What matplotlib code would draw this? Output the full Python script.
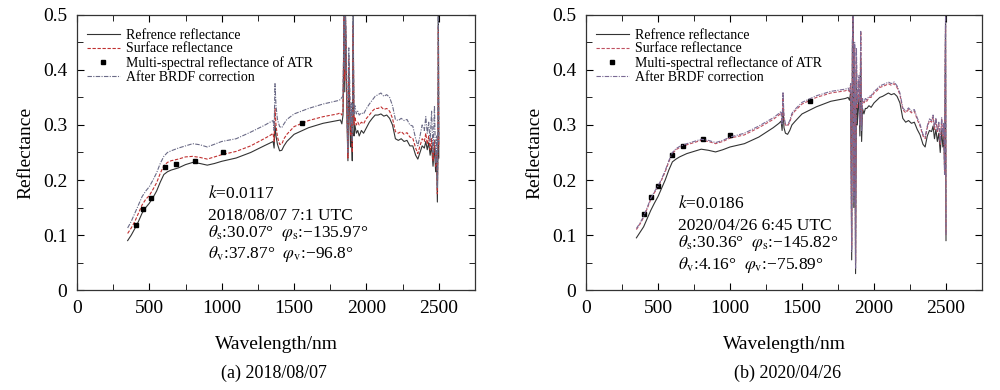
import matplotlib
matplotlib.use('Agg')
import matplotlib.pyplot as plt
import numpy as np
from matplotlib.ticker import MultipleLocator

plt.rcParams['font.family'] = ['Liberation Serif', 'DejaVu Serif']
plt.rcParams['mathtext.fontset'] = 'stix'

# wavelength grid (nm), shared by both panels
wl = [350, 375, 400, 425, 450, 475, 500, 525, 550, 575,
      600, 625, 650, 700, 750, 800, 850, 900, 950, 1000,
      1100, 1200, 1300, 1340, 1355, 1362, 1368, 1375, 1385, 1400,
      1415, 1430, 1450, 1500, 1600, 1700, 1800, 1820, 1830, 1838,
      1845, 1850, 1855, 1860, 1866, 1872, 1878, 1884, 1890, 1896,
      1902, 1908, 1914, 1920, 1930, 1940, 1950, 1965, 1980, 2000,
      2020, 2040, 2060, 2080, 2100, 2120, 2140, 2160, 2180, 2200,
      2220, 2240, 2260, 2280, 2300, 2320, 2340, 2355, 2370, 2385,
      2400, 2410, 2420, 2430, 2440, 2450, 2460, 2470, 2478, 2485,
      2490, 2494, 2497, 2500]

# (a) 2018/08/07
ref_a = [0.090, 0.100, 0.112, 0.125, 0.140, 0.150, 0.158, 0.168, 0.180, 0.196,
         0.210, 0.215, 0.218, 0.222, 0.228, 0.232, 0.230, 0.227, 0.230, 0.234,
         0.240, 0.250, 0.263, 0.268, 0.270, 0.258, 0.300, 0.280, 0.265, 0.253,
         0.254, 0.262, 0.270, 0.283, 0.295, 0.303, 0.308, 0.309, 0.302, 0.318,
         0.500, 0.360, 0.500, 0.420, 0.300, 0.235, 0.400, 0.330, 0.260, 0.300,
         0.235, 0.500, 0.280, 0.300, 0.285, 0.290, 0.280, 0.290, 0.285, 0.295,
         0.305, 0.312, 0.318, 0.318, 0.320, 0.316, 0.318, 0.312, 0.300, 0.275,
         0.272, 0.275, 0.270, 0.272, 0.262, 0.262, 0.245, 0.238, 0.250, 0.262,
         0.258, 0.270, 0.255, 0.268, 0.245, 0.262, 0.225, 0.262, 0.215, 0.240,
         0.160, 0.250, 0.500, 0.240]
sur_a = [0.103, 0.113, 0.125, 0.140, 0.155, 0.165, 0.172, 0.183, 0.195, 0.212,
         0.226, 0.232, 0.235, 0.238, 0.242, 0.243, 0.241, 0.238, 0.242, 0.246,
         0.252, 0.262, 0.276, 0.282, 0.285, 0.270, 0.330, 0.300, 0.278, 0.265,
         0.265, 0.275, 0.283, 0.297, 0.308, 0.315, 0.320, 0.322, 0.318, 0.325,
         0.500, 0.380, 0.500, 0.440, 0.320, 0.240, 0.420, 0.350, 0.280, 0.320,
         0.250, 0.480, 0.300, 0.315, 0.300, 0.305, 0.300, 0.305, 0.302, 0.312,
         0.318, 0.325, 0.330, 0.330, 0.333, 0.328, 0.330, 0.325, 0.312, 0.288,
         0.285, 0.288, 0.283, 0.286, 0.278, 0.276, 0.258, 0.248, 0.262, 0.275,
         0.270, 0.285, 0.265, 0.280, 0.255, 0.275, 0.235, 0.272, 0.225, 0.250,
         0.175, 0.270, 0.480, 0.260]
brdf_a = [0.113, 0.125, 0.140, 0.155, 0.170, 0.180, 0.188, 0.200, 0.213, 0.230,
          0.243, 0.250, 0.253, 0.258, 0.262, 0.266, 0.264, 0.260, 0.265, 0.270,
          0.275, 0.287, 0.300, 0.306, 0.308, 0.290, 0.375, 0.335, 0.310, 0.297,
          0.295, 0.302, 0.310, 0.320, 0.330, 0.338, 0.344, 0.346, 0.350, 0.352,
          0.500, 0.400, 0.500, 0.460, 0.340, 0.250, 0.440, 0.380, 0.300, 0.340,
          0.270, 0.500, 0.320, 0.335, 0.320, 0.325, 0.318, 0.322, 0.320, 0.330,
          0.338, 0.345, 0.352, 0.355, 0.358, 0.352, 0.355, 0.350, 0.335, 0.310,
          0.308, 0.312, 0.308, 0.310, 0.300, 0.298, 0.275, 0.262, 0.280, 0.300,
          0.290, 0.315, 0.285, 0.305, 0.270, 0.325, 0.250, 0.335, 0.230, 0.280,
          0.185, 0.300, 0.500, 0.270]
atr_wl_a = [408, 459, 509, 609, 685, 816, 1007, 1556]
atr_a = [0.119, 0.147, 0.167, 0.223, 0.230, 0.235, 0.250, 0.304]

# (b) 2020/04/26
ref_b = [0.095, 0.105, 0.115, 0.130, 0.145, 0.158, 0.170, 0.185, 0.200, 0.218,
         0.233, 0.238, 0.242, 0.248, 0.252, 0.256, 0.254, 0.251, 0.255, 0.260,
         0.266, 0.278, 0.295, 0.303, 0.307, 0.290, 0.330, 0.295, 0.285, 0.283,
         0.290, 0.300, 0.306, 0.320, 0.333, 0.343, 0.348, 0.350, 0.345, 0.360,
         0.055, 0.450, 0.500, 0.150, 0.400, 0.030, 0.380, 0.300, 0.330, 0.350,
         0.280, 0.420, 0.270, 0.330, 0.320, 0.330, 0.330, 0.335, 0.332, 0.340,
         0.345, 0.350, 0.352, 0.355, 0.358, 0.355, 0.357, 0.352, 0.340, 0.312,
         0.305, 0.308, 0.303, 0.305, 0.292, 0.282, 0.265, 0.260, 0.280, 0.290,
         0.288, 0.298, 0.275, 0.292, 0.270, 0.285, 0.250, 0.290, 0.260, 0.280,
         0.220, 0.350, 0.500, 0.090]
sur_b = [0.110, 0.120, 0.132, 0.148, 0.165, 0.177, 0.187, 0.200, 0.215, 0.233,
         0.248, 0.255, 0.259, 0.264, 0.268, 0.272, 0.270, 0.266, 0.270, 0.276,
         0.282, 0.295, 0.310, 0.318, 0.322, 0.305, 0.355, 0.310, 0.300, 0.298,
         0.305, 0.318, 0.325, 0.338, 0.350, 0.358, 0.362, 0.364, 0.360, 0.372,
         0.080, 0.430, 0.500, 0.180, 0.440, 0.050, 0.420, 0.330, 0.350, 0.380,
         0.300, 0.470, 0.300, 0.345, 0.340, 0.345, 0.343, 0.350, 0.350, 0.358,
         0.362, 0.368, 0.370, 0.372, 0.375, 0.372, 0.375, 0.368, 0.355, 0.328,
         0.322, 0.328, 0.322, 0.325, 0.310, 0.298, 0.280, 0.275, 0.295, 0.308,
         0.305, 0.315, 0.292, 0.310, 0.288, 0.302, 0.265, 0.310, 0.280, 0.300,
         0.210, 0.400, 0.480, 0.100]
brdf_b = [0.112, 0.122, 0.134, 0.150, 0.167, 0.179, 0.189, 0.202, 0.217, 0.235,
          0.250, 0.257, 0.261, 0.266, 0.270, 0.274, 0.272, 0.268, 0.272, 0.278,
          0.285, 0.298, 0.313, 0.321, 0.325, 0.300, 0.360, 0.315, 0.302, 0.300,
          0.308, 0.321, 0.328, 0.341, 0.353, 0.361, 0.365, 0.367, 0.362, 0.375,
          0.070, 0.450, 0.500, 0.160, 0.450, 0.040, 0.440, 0.340, 0.360, 0.390,
          0.300, 0.470, 0.290, 0.348, 0.342, 0.348, 0.346, 0.352, 0.353, 0.361,
          0.365, 0.371, 0.373, 0.375, 0.378, 0.375, 0.378, 0.371, 0.358, 0.331,
          0.325, 0.331, 0.325, 0.328, 0.313, 0.301, 0.283, 0.278, 0.298, 0.311,
          0.308, 0.318, 0.295, 0.313, 0.291, 0.305, 0.268, 0.313, 0.283, 0.303,
          0.210, 0.420, 0.500, 0.100]
atr_wl_b = [403, 451, 502, 599, 676, 810, 1000, 1556]
atr_b = [0.139, 0.170, 0.190, 0.245, 0.262, 0.275, 0.282, 0.344]

info_a = ['$k$=0.0117', '2018/08/07 7:1 UTC',
          r'$\theta_{\rm s}$:30.07°  $\varphi_{\rm s}$:−135.97°',
          r'$\theta_{\rm v}$:37.87°  $\varphi_{\rm v}$:−96.8°']
info_b = ['$k$=0.0186', '2020/04/26 6:45 UTC',
          r'$\theta_{\rm s}$:30.36°  $\varphi_{\rm s}$:−145.82°',
          r'$\theta_{\rm v}$:4.16°  $\varphi_{\rm v}$:−75.89°']

fig = plt.figure(figsize=(10, 3.9), dpi=100)
ax1 = fig.add_axes([0.077, 0.256, 0.398, 0.706])
ax2 = fig.add_axes([0.586, 0.256, 0.396, 0.706])

panels = [
    (ax1, ref_a, sur_a, brdf_a, atr_wl_a, atr_a, info_a, 0.329,
     [0.336, 0.255, 0.193, 0.118], '(a) 2018/08/07', 0.274, '#c03030', '#6a6a86'),
    (ax2, ref_b, sur_b, brdf_b, atr_wl_b, atr_b, info_b, 0.232,
     [0.297, 0.218, 0.155, 0.078], '(b) 2020/04/26', 0.788, '#c05060', '#7a6a94'),
]

for ax, ref, sur, brdf, awl, atr, info, tx, tys, cap, cx, rc, bc in panels:
    ax.plot(wl, ref, '-', color='#333333', lw=0.8, label='Refrence reflectance')
    ax.plot(wl, sur, '--', color=rc, lw=0.8, dashes=(3, 1.5), label='Surface reflectance')
    ax.plot(awl, atr, 's', color='black', ms=3.5, ls='none',
            label='Multi-spectral reflectance of ATR')
    ax.plot(wl, brdf, '-.', color=bc, lw=0.8, dashes=(4, 1.2, 1, 1.2),
            label='After BRDF correction')
    ax.set_xlim(0, 2750)
    ax.set_ylim(0, 0.5)
    ax.xaxis.set_major_locator(MultipleLocator(500))
    ax.xaxis.set_minor_locator(MultipleLocator(250))
    ax.yaxis.set_major_locator(MultipleLocator(0.1))
    ax.yaxis.set_minor_locator(MultipleLocator(0.05))
    ax.yaxis.set_major_formatter(plt.FuncFormatter(lambda v, p: '0' if v == 0 else ('%.1f' % v)))
    ax.tick_params(which='both', direction='in', top=True, right=True, labelsize=14)
    ax.tick_params(which='major', length=5, pad=7)
    ax.tick_params(which='minor', length=4)
    for s in ax.spines.values():
        s.set_linewidth(0.9)
        s.set_color('#333333')
    ax.set_xlabel('Wavelength/nm', fontsize=14, labelpad=14)
    ax.set_ylabel('Reflectance', fontsize=14, labelpad=6)
    ax.legend(loc='upper left', bbox_to_anchor=(0.0, 0.985), frameon=False,
              fontsize=10, handlelength=2.4, handletextpad=0.4, labelspacing=0.05,
              borderaxespad=0.3)
    for line, ty in zip(info, tys):
        ax.text(tx, ty, line, transform=ax.transAxes, fontsize=12.5,
                va='baseline', ha='left')
    fig.text(cx, 0.043, cap, fontsize=13, ha='center', va='center')

fig.savefig('out.png', dpi=100)
